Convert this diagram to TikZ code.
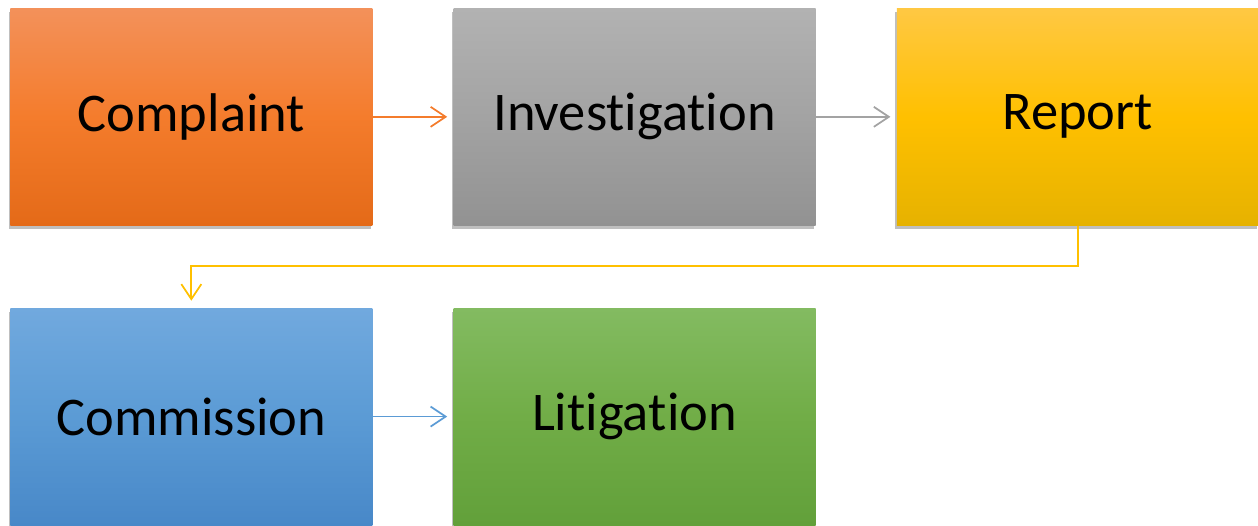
\documentclass[tikz,border=0pt]{standalone}
\usepackage{fontspec}
\setmainfont{Carlito}[Ligatures={NoCommon,NoRare,NoContextual}]
\usetikzlibrary{arrows.meta, positioning, shadows}

\definecolor{orangeT}{HTML}{F3915A}
\definecolor{orangeM}{HTML}{F47C2C}
\definecolor{orangeB}{HTML}{E46A18}
\definecolor{grayT}{HTML}{B2B2B2}
\definecolor{grayM}{HTML}{A3A3A3}
\definecolor{grayB}{HTML}{929292}
\definecolor{goldT}{HTML}{FFC843}
\definecolor{goldM}{HTML}{FFC000}
\definecolor{goldB}{HTML}{E6B200}
\definecolor{blueT}{HTML}{71A9DE}
\definecolor{blueM}{HTML}{5B9BD5}
\definecolor{blueB}{HTML}{4888C8}
\definecolor{greenT}{HTML}{83BB61}
\definecolor{greenM}{HTML}{71AD47}
\definecolor{greenB}{HTML}{62A03A}

\newcommand\nolig{\kern0pt}

\begin{document}
\begin{tikzpicture}[
    node distance = 1.64cm and 1.61cm,
    box/.style  = {top color=#1T, bottom color=#1B, middle color=#1M,
                   minimum width=7.24cm, minimum height=4.34cm,
                   inner sep=0pt, align=center,
                   font=\fontsize{31}{37}\selectfont,
                   drop shadow={shadow xshift=-0.03cm, shadow yshift=-0.07cm,
                                opacity=0.25, fill=black}},
    arr/.style  = {draw=#1, line width=1pt,
                   -{Straight Barb[length=3mm, width=4mm]}},
]
\useasboundingbox (0,0) rectangle (25.16,-10.5);

% first row
\node[box=orange, anchor=north west] (complaint) at (0.2,-0.16) {Complaint};
\node[box=gray,  right=of complaint] (investigation) {Investi\nolig gation};
\node[box=gold,  right=of investigation] (report) {Report};

% second row
\node[box=blue,  below=of complaint] (commission) {Commission};
\node[box=green, right=of commission] (litigation) {Liti\nolig ga\nolig tion};

\coordinate[below=0.8cm of report.south] (bend);

\draw[arr=orangeM, shorten >=0.12cm] (complaint) -- (investigation);
\draw[arr=grayM,   shorten >=0.12cm] (investigation) -- (report);
\draw[arr=goldM,   shorten >=0.14cm] (report.south) -- (bend) -| (commission.north);
\draw[arr=blueM,   shorten >=0.12cm] (commission) -- (litigation);

\end{tikzpicture}
\end{document}
